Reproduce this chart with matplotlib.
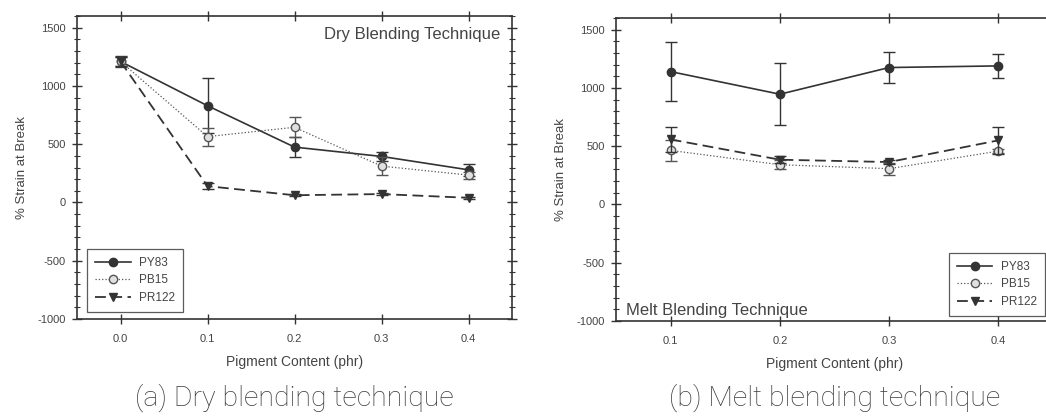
import matplotlib
matplotlib.use("Agg")
import matplotlib.pyplot as plt
from matplotlib.ticker import MultipleLocator
from matplotlib.lines import Line2D

# ---------------- data ----------------
x_dry = [0.0, 0.1, 0.2, 0.3, 0.4]
py83_dry = [1210, 830, 475, 395, 280]
py83_dry_err = [45, 235, 88, 35, 50]
pb15_dry = [1210, 565, 645, 312, 235]
pb15_dry_err = [40, 78, 85, 80, 30]
pr122_dry = [1210, 140, 62, 72, 40]
pr122_dry_err = [40, 25, 10, 10, 10]

x_melt = [0.1, 0.2, 0.3, 0.4]
py83_melt = [1140, 946, 1175, 1189]
py83_melt_err = [254, 265, 131, 100]
pb15_melt = [464, 341, 307, 458]
pb15_melt_err = [88, 40, 50, 20]
pr122_melt = [558, 384, 364, 550]
pr122_melt_err = [105, 30, 15, 115]

series_names = ["PY83", "PB15", "PR122"]
ytick_vals = [-1000, -500, 0, 500, 1000, 1500]
xticks_dry = [0.0, 0.1, 0.2, 0.3, 0.4]
xticks_melt = [0.1, 0.2, 0.3, 0.4]

# ---------------- style ----------------
W, H = 1046, 420
fig = plt.figure(figsize=(W / 100, H / 100), dpi=100)
fig.patch.set_facecolor("white")
FONT = ["Liberation Sans", "DejaVu Sans"]
dark = "#333333"
gray = "#555555"
txt = "#444444"

STY = [
    dict(ls="-", lw=1.2, marker="o", mfc=dark, mec=dark, color=dark),
    dict(ls=":", lw=0.9, marker="o", mfc="#e0e0e0", mec=gray, color=gray),
    dict(ls=(0, (6, 3)), lw=1.3, marker="v", mfc=dark, mec=dark, color=dark),
]

def px_axes(l, t, r, b):
    return fig.add_axes([l / W, 1 - b / H, (r - l) / W, (b - t) / H])

def style(ax, xlim, xticks):
    ax.set_xlim(*xlim)
    ax.set_ylim(-1000, 1600)
    ax.set_xticks(xticks)
    ax.set_xticklabels([f"{v:.1f}" for v in xticks], fontsize=8, color=txt, family=FONT)
    ax.set_yticks(ytick_vals)
    ax.set_yticklabels([str(v) for v in ytick_vals], fontsize=8, color=txt, family=FONT)
    ax.yaxis.set_minor_locator(MultipleLocator(100))
    ax.tick_params(which="major", direction="inout", length=7, width=1.0, color=dark,
                   top=True, right=True, pad=4.5)
    ax.tick_params(axis="x", which="major", pad=7)
    ax.tick_params(which="minor", direction="inout", length=4, width=0.8, color=dark,
                   right=True)
    for s in ax.spines.values():
        s.set_color(dark)
        s.set_linewidth(1.2)
    ax.set_ylabel("% Strain at Break", fontsize=9.5, color=txt, family=FONT, labelpad=7)
    ax.set_xlabel("Pigment Content (phr)", fontsize=10, color=txt, family=FONT, labelpad=8)

def draw(ax, x, ys, errs):
    for y, e, st in zip(ys, errs, STY):
        ax.errorbar(x, y, yerr=e, fmt="none", ecolor=st["color"], elinewidth=1.0,
                    capsize=4, capthick=1.0)
        ax.plot(x, y, ls=st["ls"], lw=st["lw"], color=st["color"], marker=st["marker"],
                markersize=6, mfc=st["mfc"], mec=st["mec"], mew=1.0)

def legend(ax, anchor, loc):
    handles = [Line2D([], [], ls=st["ls"], lw=st["lw"], color=st["color"], marker=st["marker"],
                      markersize=6, mfc=st["mfc"], mec=st["mec"]) for st in STY]
    leg = ax.legend(handles, series_names, loc=loc, bbox_to_anchor=anchor,
                    bbox_transform=fig.transFigure, borderaxespad=0,
                    frameon=True, fancybox=False, handlelength=3.0,
                    borderpad=0.7, labelspacing=0.45, handletextpad=0.7,
                    prop={"family": FONT, "size": 8.5})
    leg.get_frame().set_edgecolor(dark)
    leg.get_frame().set_linewidth(0.9)
    for t in leg.get_texts():
        t.set_color(txt)
    return leg

# left panel
ax1 = px_axes(77, 16, 512, 319)
style(ax1, (-0.05, 0.45), xticks_dry)
draw(ax1, x_dry, [py83_dry, pb15_dry, pr122_dry], [py83_dry_err, pb15_dry_err, pr122_dry_err])
legend(ax1, (87 / W, 1 - 312 / H), "lower left")
ax1.text(500 / W, 1 - 34 / H, "Dry Blending Technique", transform=fig.transFigure,
         ha="right", va="center", fontsize=12, color=txt, family=FONT)

# right panel (extends past right edge)
ax2 = px_axes(616, 18, 1053, 321)
style(ax2, (0.05, 0.45), xticks_melt)
draw(ax2, x_melt, [py83_melt, pb15_melt, pr122_melt],
     [py83_melt_err, pb15_melt_err, pr122_melt_err])
legend(ax2, (1045 / W, 1 - 316 / H), "lower right")
ax2.text(626 / W, 1 - 310 / H, "Melt Blending Technique", transform=fig.transFigure,
         ha="left", va="center", fontsize=12, color=txt, family=FONT)

# captions
CAP = ["Roboto", "DejaVu Sans"]
fig.text(294 / W, 1 - 398 / H, "(a) Dry blending technique", ha="center", va="center",
         fontsize=20.5, color="#3c3c3c", family=CAP, fontweight="light")
fig.text(835 / W, 1 - 398 / H, "(b) Melt blending technique", ha="center", va="center",
         fontsize=20.5, color="#3c3c3c", family=CAP, fontweight="light")

fig.savefig("out.png", dpi=100, facecolor="white")
